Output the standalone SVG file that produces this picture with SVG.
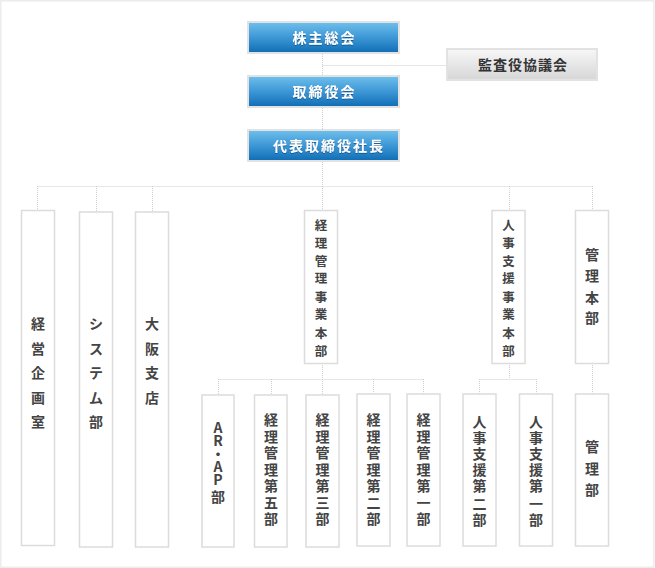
<svg xmlns="http://www.w3.org/2000/svg" width="655" height="568" viewBox="0 0 655 568">
<defs>
<linearGradient id="blue" x1="0" y1="0" x2="0" y2="1">
<stop offset="0" stop-color="#6fc0ec"/>
<stop offset="0.5" stop-color="#3d97d6"/>
<stop offset="1" stop-color="#106db4"/>
</linearGradient>
<linearGradient id="gray" x1="0" y1="0" x2="0" y2="1">
<stop offset="0" stop-color="#f7f7f7"/>
<stop offset="1" stop-color="#d6d6d6"/>
</linearGradient>
<filter id="sh" x="-10%" y="-10%" width="120%" height="130%">
<feDropShadow dx="0" dy="1" stdDeviation="0.4" flood-color="#003a6a" flood-opacity="0.6"/>
</filter>
</defs>
<style>
text{font-family:"Noto Sans CJK JP","Noto Sans",sans-serif;text-anchor:middle}
.hdr{fill:url(#blue);stroke:#e2e2e2;stroke-width:2}
.aud{fill:url(#gray);stroke:#e2e2e2;stroke-width:2}
.box{fill:#fff;stroke:#dcdcdc;stroke-width:1.5}
.ht{fill:#fff;font-size:14px;font-weight:bold;letter-spacing:2px}
.at{fill:#333;font-size:14px;font-weight:bold;letter-spacing:1px}
.vt{fill:#444;font-size:14px;font-weight:bold}
.vs{fill:#444;font-size:12.5px;font-weight:bold}
.ln{stroke:#cfcfcf;stroke-width:1;stroke-dasharray:1 1;fill:none}
</style>
<rect x="0.75" y="0.75" width="653" height="566.5" fill="#fff" stroke="#ececec" stroke-width="1.5"/>
<g id="connectors">
<path class="ln" d="M322.5 54V186M322.5 65.5H446M37.5 186.5H592.5M37.5 186V210M96.5 186V212M152.5 186V212M322.5 186V210M509.5 186V210M592.5 186V210"/>
<path class="ln" d="M322.5 363V379M218.5 379.5H423.5M218.5 379V395M271.5 379V395M322.5 379V395M373.5 379V394M423.5 379V394"/>
<path class="ln" d="M509.5 363V379M479.5 379.5H536.5M479.5 379V394M536.5 379V394M592.5 363V394"/>
</g>
<g id="n1"><rect class="hdr" x="248" y="22" width="151" height="31"/><text class="ht" x="324.5" y="43" filter="url(#sh)">株主総会</text></g>
<g id="n2"><rect class="aud" x="447" y="49" width="150" height="31"/><text class="at" x="523" y="70">監査役協議会</text></g>
<g id="n3"><rect class="hdr" x="248" y="76" width="151" height="31"/><text class="ht" x="324.5" y="97" filter="url(#sh)">取締役会</text></g>
<g id="n4"><rect class="hdr" x="248" y="130" width="151" height="31"/><text class="ht" x="329" y="151" filter="url(#sh)">代表取締役社長</text></g>

<g id="n5"><rect class="box" x="21.5" y="210.5" width="33" height="335"/><text class="vt"><tspan x="38" y="328.5">経</tspan><tspan x="38" y="353.5">営</tspan><tspan x="38" y="378">企</tspan><tspan x="38" y="402.5">画</tspan><tspan x="38" y="427">室</tspan></text></g>
<g id="n6"><rect class="box" x="79.5" y="212" width="33" height="335"/><text class="vt"><tspan x="96" y="328.5">シ</tspan><tspan x="96" y="353.5">ス</tspan><tspan x="96" y="378">テ</tspan><tspan x="96" y="402.5">ム</tspan><tspan x="96" y="427">部</tspan></text></g>
<g id="n7"><rect class="box" x="135.5" y="212" width="33" height="335"/><text class="vt"><tspan x="152" y="328.5">大</tspan><tspan x="152" y="353.5">阪</tspan><tspan x="152" y="378">支</tspan><tspan x="152" y="402.5">店</tspan></text></g>
<g id="n8"><rect class="box" x="304.5" y="210.5" width="33" height="153"/><text class="vs"><tspan x="321" y="229.5">経</tspan><tspan x="321" y="247.5">理</tspan><tspan x="321" y="265.5">管</tspan><tspan x="321" y="283">理</tspan><tspan x="321" y="301.5">事</tspan><tspan x="321" y="319">業</tspan><tspan x="321" y="337.5">本</tspan><tspan x="321" y="355.5">部</tspan></text></g>
<g id="n9"><rect class="box" x="492" y="210.5" width="33" height="153"/><text class="vs"><tspan x="508.5" y="229.5">人</tspan><tspan x="508.5" y="247.5">事</tspan><tspan x="508.5" y="265.5">支</tspan><tspan x="508.5" y="283">援</tspan><tspan x="508.5" y="301.5">事</tspan><tspan x="508.5" y="319">業</tspan><tspan x="508.5" y="337.5">本</tspan><tspan x="508.5" y="355.5">部</tspan></text></g>
<g id="n10"><rect class="box" x="575.5" y="210.5" width="33" height="153"/><text class="vt"><tspan x="592" y="260">管</tspan><tspan x="592" y="281">理</tspan><tspan x="592" y="303">本</tspan><tspan x="592" y="323">部</tspan></text></g>

<g id="n11"><rect class="box" x="202" y="395" width="32" height="152"/><text class="vt"><tspan x="218" y="433">A</tspan><tspan x="218" y="446">R</tspan><tspan x="218" y="459">・</tspan><tspan x="218" y="472">A</tspan><tspan x="218" y="485">P</tspan><tspan x="218" y="502">部</tspan></text></g>
<g id="n12"><rect class="box" x="254.5" y="395" width="32.5" height="152"/><text class="vt"><tspan x="271" y="425">経</tspan><tspan x="271" y="441.5">理</tspan><tspan x="271" y="458">管</tspan><tspan x="271" y="474.5">理</tspan><tspan x="271" y="491">第</tspan><tspan x="271" y="507.5">五</tspan><tspan x="271" y="524">部</tspan></text></g>
<g id="n13"><rect class="box" x="306" y="395" width="33" height="152"/><text class="vt"><tspan x="322.5" y="425">経</tspan><tspan x="322.5" y="441.5">理</tspan><tspan x="322.5" y="458">管</tspan><tspan x="322.5" y="474.5">理</tspan><tspan x="322.5" y="491">第</tspan><tspan x="322.5" y="507.5">三</tspan><tspan x="322.5" y="524">部</tspan></text></g>
<g id="n14"><rect class="box" x="357" y="394" width="33" height="152"/><text class="vt"><tspan x="373.5" y="425">経</tspan><tspan x="373.5" y="441.5">理</tspan><tspan x="373.5" y="458">管</tspan><tspan x="373.5" y="474.5">理</tspan><tspan x="373.5" y="491">第</tspan><tspan x="373.5" y="507.5">二</tspan><tspan x="373.5" y="524">部</tspan></text></g>
<g id="n15"><rect class="box" x="407" y="394" width="33" height="152"/><text class="vt"><tspan x="423.5" y="425">経</tspan><tspan x="423.5" y="441.5">理</tspan><tspan x="423.5" y="458">管</tspan><tspan x="423.5" y="474.5">理</tspan><tspan x="423.5" y="491">第</tspan><tspan x="423.5" y="507.5">一</tspan><tspan x="423.5" y="524">部</tspan></text></g>
<g id="n16"><rect class="box" x="463" y="394" width="33" height="152"/><text class="vt"><tspan x="479.5" y="427">人</tspan><tspan x="479.5" y="443">事</tspan><tspan x="479.5" y="459">支</tspan><tspan x="479.5" y="475">援</tspan><tspan x="479.5" y="491">第</tspan><tspan x="479.5" y="509">二</tspan><tspan x="479.5" y="525">部</tspan></text></g>
<g id="n17"><rect class="box" x="519.5" y="394" width="33" height="152"/><text class="vt"><tspan x="536" y="427">人</tspan><tspan x="536" y="443">事</tspan><tspan x="536" y="459">支</tspan><tspan x="536" y="475">援</tspan><tspan x="536" y="491">第</tspan><tspan x="536" y="509">一</tspan><tspan x="536" y="525">部</tspan></text></g>
<g id="n18"><rect class="box" x="575.5" y="394" width="33" height="152"/><text class="vt"><tspan x="592" y="452">管</tspan><tspan x="592" y="473.5">理</tspan><tspan x="592" y="495">部</tspan></text></g>
</svg>
